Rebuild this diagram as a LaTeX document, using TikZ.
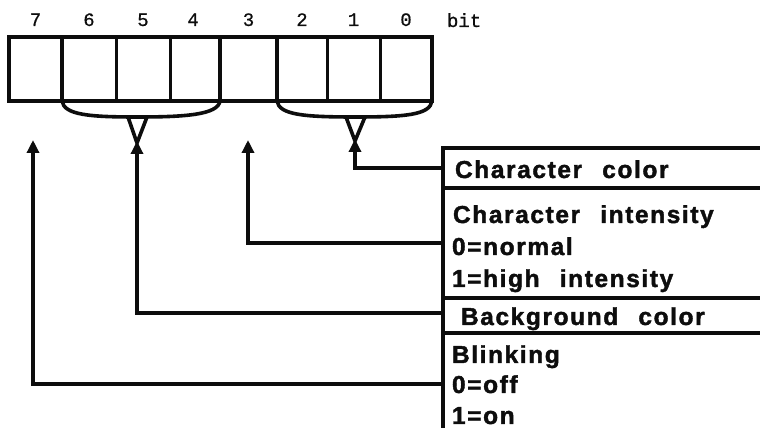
\documentclass[tikz,border=0pt]{standalone}
\usepackage{fontspec}
\usetikzlibrary{arrows.meta}
\newfontfamily\bitfont[FakeBold=0.6]{Liberation Mono}
\newfontfamily\rowfont[LetterSpace=6.5, WordSpace=2.4,
    BoldFeatures={FakeBold=1.6}]{Liberation Sans}
\definecolor{RegPaper}{gray}{1}
\definecolor{RegInk}{gray}{0.05}
\tikzset{
    reg/diagram/.style={
        draw=RegInk,
        text=RegInk,
        line cap=rect,
        line join=miter,
        every node/.style={inner sep=0pt, outer sep=0pt}
    },
    reg/frame/.style={draw=RegInk, line width=3.6pt},
    reg/thin/.style={draw=RegInk, line width=3pt},
    reg/thick/.style={draw=RegInk, line width=4.6pt},
    reg/brace/.style={draw=RegInk, line width=3.6pt, line cap=butt},
    reg/lead/.style={
        draw=RegInk, line width=3.6pt, line cap=butt,
        -{Triangle[length=13pt, width=12pt]}
    },
    reg/bit/.style={anchor=base, font=\bitfont\fontsize{19}{22}\selectfont},
    reg/row/.style={anchor=base west,
        font=\rowfont\bfseries\fontsize{24.5}{28}\selectfont}
}
\begin{document}
\begin{tikzpicture}[reg/diagram, x=1pt, y=1pt]
    \fill[RegPaper] (0,0) rectangle (760,428);
    \useasboundingbox (0,0) rectangle (760,428);
    \draw[reg/thin] (116,327) -- (116,391) (170,327) -- (170,391)
                    (327,327) -- (327,391) (380,327) -- (380,391);
    \draw[reg/thick] (62,327) -- (62,391) (220,327) -- (220,391)
                     (277,327) -- (277,391);
    \draw[reg/frame] (9,327) rectangle (432,391);
    \foreach \k/\x in {7/35.5, 6/89, 5/143, 4/193, 3/248.5, 2/302, 1/353.5, 0/406}
        \node[reg/bit] (n\k) at (\x,402) {\k};
    \node[reg/bit, anchor=base west] (unit) at (447,401) {bit};

    \draw[reg/brace] (62,327) .. controls (64,313) and (90,311) .. (137,311)
                     .. controls (184,311) and (218,313) .. (220,327);
    \draw[reg/brace] (128,311) -- (137,285) -- (147,311);
    \draw[reg/brace] (277,327) .. controls (279,313) and (305,311) .. (355,311)
                     .. controls (405,311) and (430,313) .. (432,327);
    \draw[reg/brace] (346,311) -- (355,287) -- (365,311);
    \coordinate (fg) at (355,289);
    \coordinate (hi) at (248,288);
    \coordinate (bg) at (137,287);
    \coordinate (bl) at (33,288);

    \draw[reg/frame] (760,280) -- (443,280) -- (443,0);
    \draw[reg/frame] (443,240) -- (760,240)
                     (443,130) -- (760,130)
                     (443,95) -- (760,95);
    \node[reg/row] (fgrow) at (455,250) {Character color};
    \node[reg/row] (hirow) at (453,205) {Character intensity};
    \node[reg/row] (hizero) at (452,173) {0=normal};
    \node[reg/row] (hione) at (452,141) {1=high intensity};
    \node[reg/row] (bgrow) at (461,103) {Background color};
    \node[reg/row] (blrow) at (452,65) {Blinking};
    \node[reg/row] (blzero) at (452,35) {0=off};
    \node[reg/row] (blone) at (452,4) {1=on};

    \coordinate (fgin) at (443,260);
    \coordinate (hiin) at (443,185);
    \coordinate (bgin) at (443,115);
    \coordinate (blin) at (443,44);
    \draw[reg/lead] (fgin) -| (fg);
    \draw[reg/lead] (hiin) -| (hi);
    \draw[reg/lead] (bgin) -| (bg);
    \draw[reg/lead] (blin) -| (bl);
\end{tikzpicture}
\end{document}
